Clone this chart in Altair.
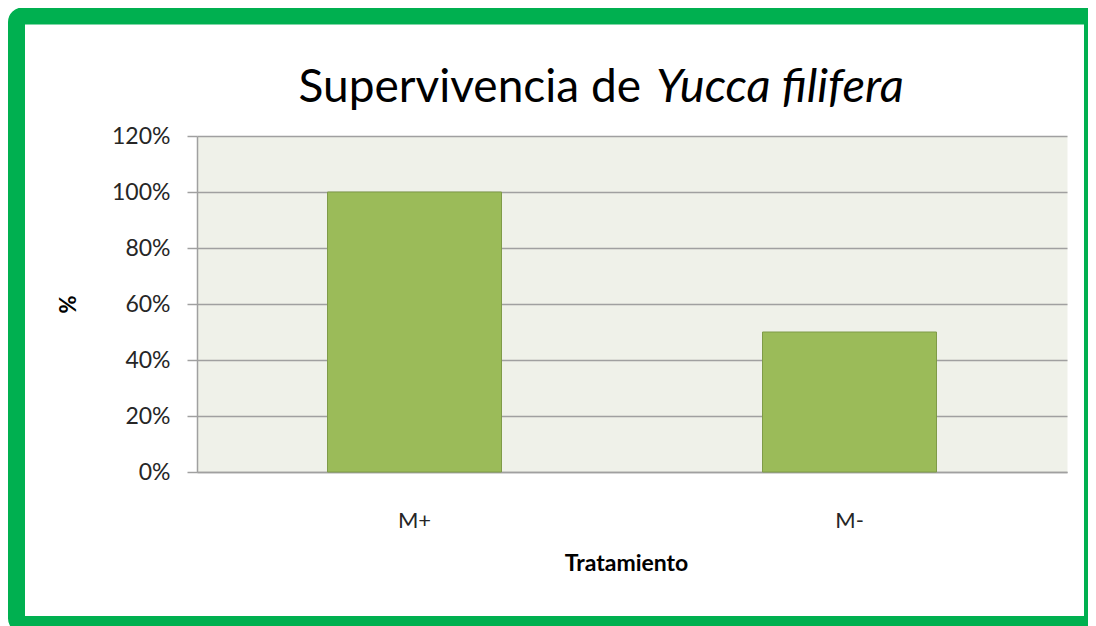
import altair as alt
import pandas as pd

# ---- data ----
tratamientos = ["M+", "M-"]
supervivencia = [1.0, 0.5]
y_ticks = [0, 0.2, 0.4, 0.6, 0.8, 1.0, 1.2]
titulo_normal = "Supervivencia de"
titulo_italica = "Yucca filifera"

df = pd.DataFrame({"Tratamiento": tratamientos, "Supervivencia": supervivencia})
one = pd.DataFrame({"k": [0]})

W, H = 870, 336
PAD = {"left": 189, "top": 128, "right": 21, "bottom": 154}
FONT = "Lato"
GRAY = "#A0A0A0"

frame = alt.Chart(one).mark_rect(
    stroke="#00B050", strokeWidth=17, fillOpacity=0, cornerRadius=6
).encode(
    x=alt.value(-180.5), x2=alt.value(895.5), y=alt.value(-120), y2=alt.value(488.5)
)

t1 = alt.Chart(one).mark_text(
    text=titulo_normal, font=FONT, fontSize=46, align="right", baseline="alphabetic", color="#000000"
).encode(x=alt.value(444), y=alt.value(-34))

t2 = alt.Chart(one).mark_text(
    text=titulo_italica, font=FONT, fontSize=47, fontStyle="italic", align="left",
    baseline="alphabetic", color="#000000"
).encode(x=alt.value(459), y=alt.value(-34))

bars = alt.Chart(df).mark_bar(color="#9BBB59", stroke="#7F9B48", strokeWidth=1).encode(
    x=alt.X(
        "Tratamiento:N", sort=tratamientos,
        scale=alt.Scale(paddingInner=0.6, paddingOuter=0.3),
        axis=alt.Axis(
            title="Tratamiento", labelAngle=0, ticks=False, labelPadding=38,
            labelFont=FONT, labelFontSize=22, labelColor="#262626",
            domainColor=GRAY, domainWidth=1.5,
            titleFont=FONT, titleFontSize=23, titleFontWeight="bold", titleColor="#000000",
            titleX=W / 2 - 6, titleY=91, titleBaseline="middle", titleAlign="center",
        ),
    ),
    y=alt.Y(
        "Supervivencia:Q",
        scale=alt.Scale(domain=[0, 1.2]),
        axis=alt.Axis(
            values=y_ticks, format="%", title="%",
            tickSize=10, tickColor=GRAY, tickWidth=1.5, labelPadding=17,
            labelFont=FONT, labelFontSize=23, labelColor="#262626",
            domainColor=GRAY, domainWidth=1.5,
            gridColor=GRAY, gridWidth=1.5,
            titleFont=FONT, titleFontSize=22, titleFontWeight="bold", titleColor="#000000",
            titleAngle=-90, titleX=-129, titleY=H / 2, titleAlign="center", titleBaseline="middle",
        ),
    ),
)

chart = alt.layer(frame, t1, t2, bars).properties(
    width=W, height=H, padding=PAD, autosize="none", background="white"
).configure_view(fill="#EFF1E9", strokeOpacity=0)

chart.save("out.html", embed_options={"renderer": "svg", "actions": False})
